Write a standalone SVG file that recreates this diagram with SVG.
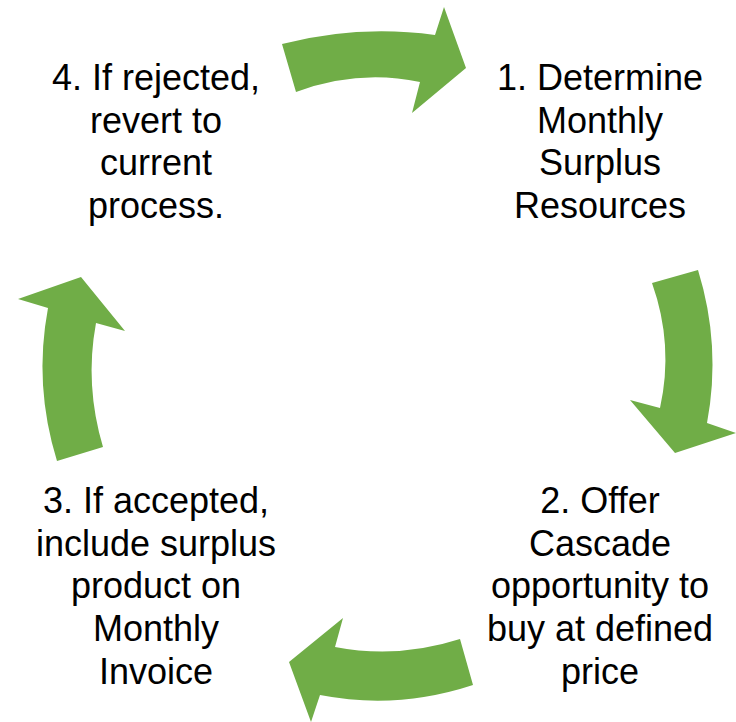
<svg xmlns="http://www.w3.org/2000/svg" width="736" height="722" viewBox="0 0 736 722">
<style>
.arr{fill:#70AD47;stroke:none}
.t{font-family:"Liberation Sans",Arial,sans-serif;font-size:36px;fill:#000;text-anchor:middle}
</style>
<rect width="736" height="722" fill="#fff"/>
<g id="connectors">
<path class="arr" d="M282,44 Q358,24.5 435,35 L444,7 L466,68 L412,113 L420,82 Q358,69 296,92 Z"/>
<path class="arr" d="M652,283 L698,270 Q721.5,346 707,423 L736,433 L675,453 L630,400 L660,408 Q674,345 652,283 Z"/>
<path class="arr" d="M460,639 L473,685 Q397,710 320,695 L311,722 L289,662 L343,618 L335,647 Q398,659 460,639 Z"/>
<path class="arr" d="M57,461 L103,447 Q84.5,385 96,323 L125,331 L81,277 L18,299 L48,308 Q33.5,385 57,461 Z"/>
</g>
<g id="node1">
<text class="t" x="600" y="90">1. Determine</text>
<text class="t" x="600" y="133">Monthly</text>
<text class="t" x="600" y="175">Surplus</text>
<text class="t" x="600" y="218">Resources</text>
</g>
<g id="node2">
<text class="t" x="600" y="513">2. Offer</text>
<text class="t" x="600" y="556">Cascade</text>
<text class="t" x="600" y="598">opportunity to</text>
<text class="t" x="600" y="641">buy at defined</text>
<text class="t" x="600" y="684">price</text>
</g>
<g id="node3">
<text class="t" x="156" y="513">3. If accepted,</text>
<text class="t" x="156" y="556">include surplus</text>
<text class="t" x="156" y="598">product on</text>
<text class="t" x="156" y="641">Monthly</text>
<text class="t" x="156" y="684">Invoice</text>
</g>
<g id="node4">
<text class="t" x="156" y="90">4. If rejected,</text>
<text class="t" x="156" y="133">revert to</text>
<text class="t" x="156" y="175">current</text>
<text class="t" x="156" y="218">process.</text>
</g>
</svg>
